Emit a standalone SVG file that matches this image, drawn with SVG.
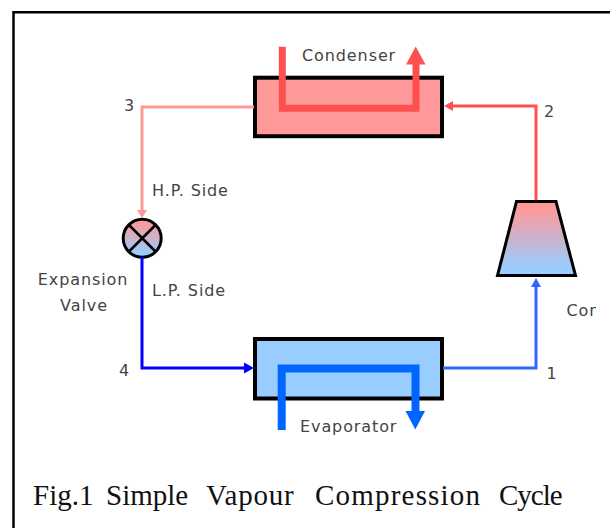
<svg xmlns="http://www.w3.org/2000/svg" width="610" height="528" viewBox="0 0 610 528">
<style>
.l{font-family:"DejaVu Sans","Noto Sans",sans-serif;font-size:16px;fill:#444;letter-spacing:.9px}
.cap{font-family:"Liberation Serif",serif;font-size:29px;fill:#111}
.box{stroke:#000;stroke-width:4}
.pipe{fill:none}
</style>
<defs>
<linearGradient id="g" x1="0" y1="0" x2="0" y2="1"><stop offset="0.08" stop-color="#ff9999"/><stop offset="0.9" stop-color="#99ccff"/></linearGradient>
<clipPath id="c"><rect x="0" y="0" width="596" height="528"/></clipPath>
</defs>
<rect width="610" height="528" fill="#fff"/>
<g id="frame"><path d="M13.500 528V12.300H610" fill="none" stroke="#000" stroke-width="2.500"/></g>
<g id="condenser"><rect class="box" x="255" y="77.700" width="187" height="58.500" fill="#ff9999"/>
<path class="pipe" d="M282.300 46.700V108.300H416V62" stroke="#ff5050" stroke-width="7"/><path d="M406 64.500L415.700 46.500L425.500 64.500Z" fill="#ff5050"/>
<text class="l" x="302" y="61">Condenser</text></g>
<g id="evaporator"><rect class="box" x="255" y="339" width="187" height="59.500" fill="#99ccff"/>
<path class="pipe" d="M281.700 430V368.500H415.500V412" stroke="#0066ff" stroke-width="8"/><path d="M405.500 411L415.300 429.500L425 411Z" fill="#0066ff"/>
<text class="l" x="300" y="431.500">Evaporator</text></g>
<g id="compressor"><path d="M516.500 201.500H556L575.500 275.500H497.500Z" fill="url(#g)" stroke="#000" stroke-width="3"/><text class="l" x="566.500" y="316" clip-path="url(#c)">Con</text></g>
<g id="valve"><circle cx="142.200" cy="238.300" r="19" fill="url(#g)" stroke="#000" stroke-width="3"/><path d="M129.500 225.500L155 251M155 225.500L129.500 251" stroke="#000" stroke-width="2.500"/>
<text class="l" x="83" y="285" text-anchor="middle">Expansion</text><text class="l" x="84" y="310.500" text-anchor="middle">Valve</text></g>
<g id="connectors" fill="none" stroke-width="3">
<path d="M254 107H142V214" stroke="#ff9999"/><path d="M137 210L142 218L147 210Z" fill="#ff9999" stroke="none"/>
<path d="M142 257V368H247" stroke="#0000ff"/><path d="M244 362.500L254 368L244 373.500Z" fill="#0000ff" stroke="none"/>
<path d="M443 368H536V284" stroke="#3366ff"/><path d="M531 287L536 278L541 287Z" fill="#3366ff" stroke="none"/>
<path d="M536 200V106H450" stroke="#ff5050"/><path d="M453 101L444 106L453 111Z" fill="#ff5050" stroke="none"/>
</g>
<g id="labels">
<text class="l" x="124" y="111">3</text><text class="l" x="544" y="116.500">2</text><text class="l" x="546.500" y="379">1</text><text class="l" x="119" y="376">4</text>
<text class="l" x="152" y="196">H.P. Side</text><text class="l" x="152" y="296">L.P. Side</text>
<text class="cap" y="505"><tspan x="33">Fig.1</tspan><tspan x="106">Simple</tspan><tspan x="206" letter-spacing=".8">Vapour</tspan><tspan x="315" letter-spacing="1.200">Compression</tspan><tspan x="499" letter-spacing="-1">Cycle</tspan></text>
</g>
</svg>
